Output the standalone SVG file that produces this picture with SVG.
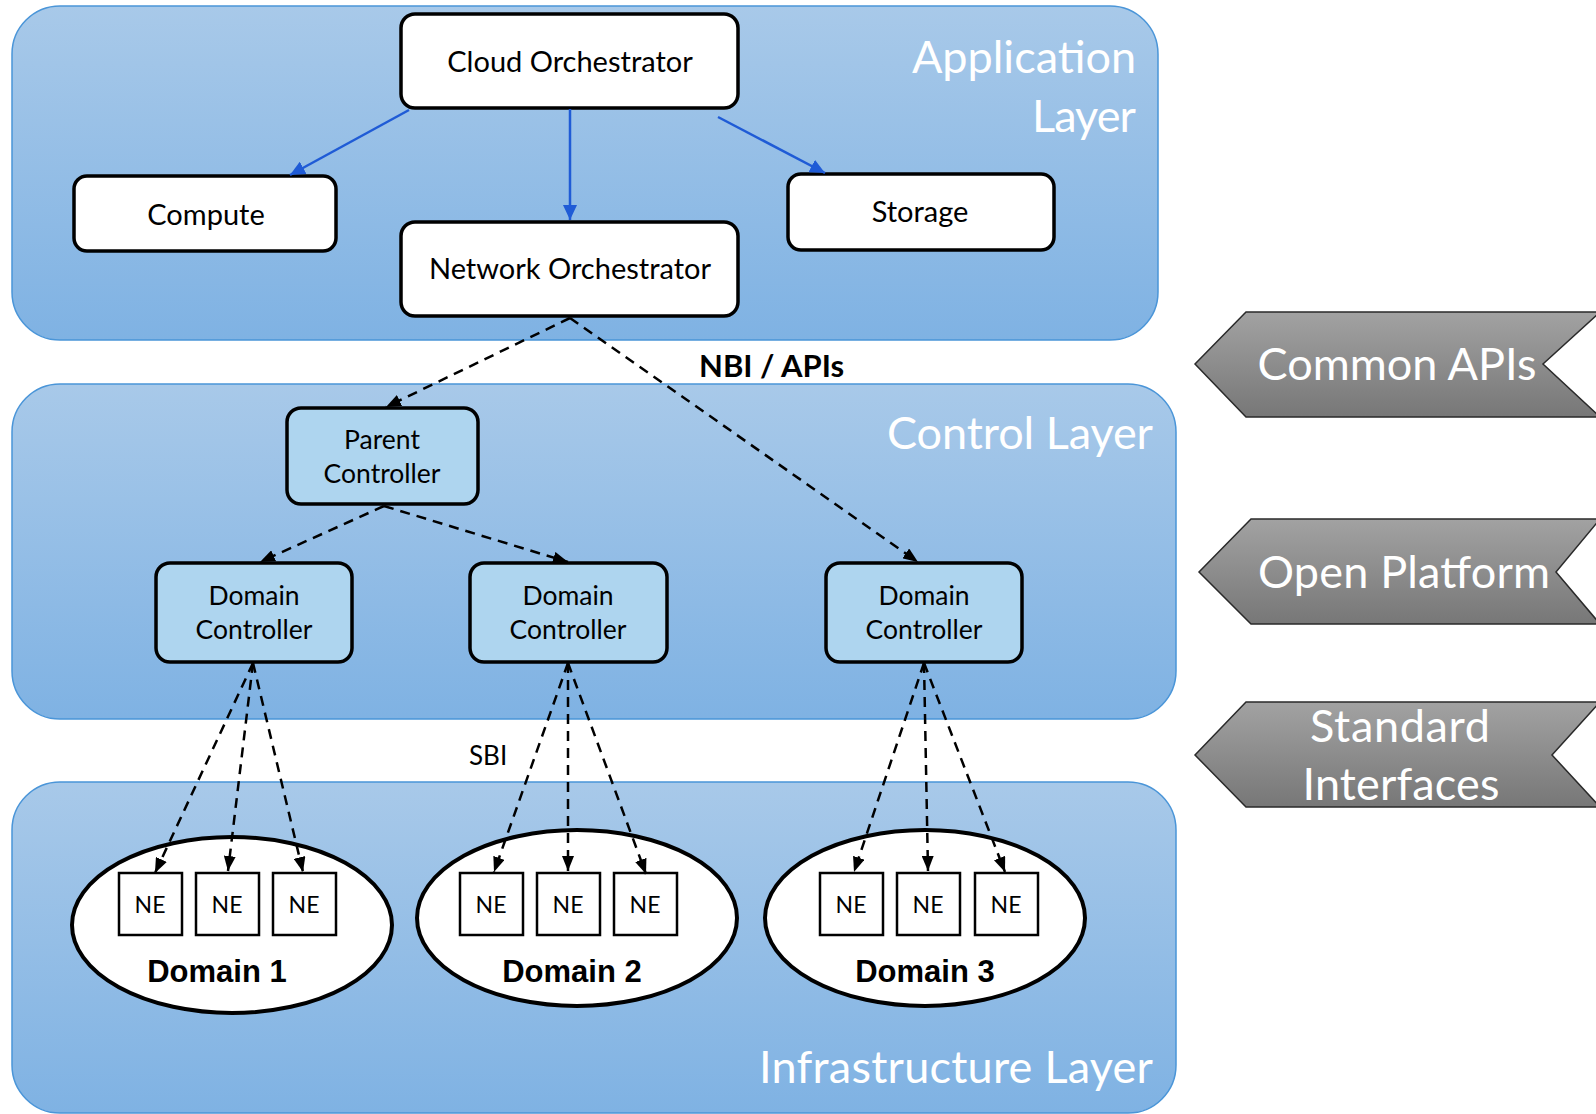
<svg xmlns="http://www.w3.org/2000/svg" width="1596" height="1114" viewBox="0 0 1596 1114">
  <defs>
    <linearGradient id="panelFill" x1="0" y1="0" x2="0" y2="1">
      <stop offset="0" stop-color="#A8C9E9"/>
      <stop offset="1" stop-color="#7FB2E3"/>
    </linearGradient>
    <linearGradient id="tagFill" x1="0" y1="0" x2="0" y2="1">
      <stop offset="0" stop-color="#A2A2A2"/>
      <stop offset="1" stop-color="#777777"/>
    </linearGradient>
    <marker id="blueHead" markerUnits="userSpaceOnUse" markerWidth="16" markerHeight="14" refX="15" refY="7" orient="auto">
      <path d="M0,0 L15,7 L0,14 Z" fill="#1F5BD6"/>
    </marker>
    <marker id="blackHead" markerUnits="userSpaceOnUse" markerWidth="16" markerHeight="12" refX="15" refY="6" orient="auto">
      <path d="M0,0 L15,6 L0,12 Z" fill="#000"/>
    </marker>
  </defs>
  <style>
    .panel { fill: url(#panelFill); stroke: #4A95D8; stroke-width: 1.5; }
    .layer-title { font-family: Lato, "Open Sans", sans-serif; font-size: 45px; fill: #FFFFFF; text-anchor: end; }
    .box { fill: #FFFFFF; stroke: #000; stroke-width: 3.5; }
    .ctrl { fill: #AED5EF; stroke: #000; stroke-width: 3.5; }
    .label { font-family: Lato, "Open Sans", sans-serif; font-size: 29px; fill: #000; text-anchor: middle; }
    .label2 { font-family: Lato, "Open Sans", sans-serif; font-size: 26.5px; fill: #000; text-anchor: middle; }
    .domain { fill: #FFFFFF; stroke: #000; stroke-width: 4; }
    .ne { fill: #FFFFFF; stroke: #000; stroke-width: 2.5; }
    .ne-text { font-family: Lato, "Open Sans", sans-serif; font-size: 23px; fill: #000; text-anchor: middle; }
    .domain-text { font-family: "Liberation Sans", Arial, sans-serif; font-weight: bold; font-size: 31px; fill: #000; text-anchor: middle; }
    .tag { fill: url(#tagFill); stroke: #2A2A2A; stroke-width: 1.5; }
    .tag-text { font-family: Lato, "Open Sans", sans-serif; font-size: 45px; fill: #FFFFFF; text-anchor: middle; }
    .note { font-family: Lato, "Open Sans", sans-serif; fill: #000; }
    .solid { stroke: #1F5BD6; stroke-width: 2.5; fill: none; marker-end: url(#blueHead); }
    .dashed { stroke: #000; stroke-width: 2.5; fill: none; stroke-dasharray: 10 7; marker-end: url(#blackHead); }
  </style>

  <!-- Layer panels -->
  <g id="application-layer">
    <rect class="panel" x="12" y="6" width="1146" height="334" rx="48" ry="48"/>
    <text class="layer-title" x="1136" y="73" textLength="224">Application</text>
    <text class="layer-title" x="1136" y="132" textLength="104">Layer</text>
  </g>
  <g id="control-layer">
    <rect class="panel" x="12" y="384" width="1164" height="335" rx="48" ry="48"/>
    <text class="layer-title" x="1153" y="449" textLength="266">Control Layer</text>
  </g>
  <g id="infrastructure-layer">
    <rect class="panel" x="12" y="782" width="1164" height="331" rx="48" ry="48"/>
    <text class="layer-title" x="1153" y="1083" textLength="394">Infrastructure Layer</text>
  </g>

  <!-- Side tags -->
  <g id="tag-common-apis">
    <polygon class="tag" points="1195,364 1246,312 1600,312 1543,364 1600,417 1246,417"/>
    <text class="tag-text" x="1397" y="380" textLength="279">Common APIs</text>
  </g>
  <g id="tag-open-platform">
    <polygon class="tag" points="1199,572 1251,519 1600,519 1556,572 1600,624 1251,624"/>
    <text class="tag-text" x="1404" y="588" textLength="292">Open Platform</text>
  </g>
  <g id="tag-standard-interfaces">
    <polygon class="tag" points="1195,755 1246,702 1600,702 1552,755 1600,807 1246,807"/>
    <text class="tag-text" x="1400" y="742" textLength="180">Standard</text>
    <text class="tag-text" x="1401" y="800" textLength="197">Interfaces</text>
  </g>

  <!-- Application layer nodes -->
  <g id="cloud-orchestrator">
    <rect class="box" x="401" y="14" width="337" height="94" rx="14"/>
    <text class="label" x="570" y="72">Cloud Orchestrator</text>
  </g>
  <g id="compute">
    <rect class="box" x="74" y="176" width="262" height="75" rx="13"/>
    <text class="label" x="206" y="225">Compute</text>
  </g>
  <g id="network-orchestrator">
    <rect class="box" x="401" y="222" width="337" height="94" rx="14"/>
    <text class="label" x="570" y="279">Network Orchestrator</text>
  </g>
  <g id="storage">
    <rect class="box" x="788" y="174" width="266" height="76" rx="13"/>
    <text class="label" x="920" y="222">Storage</text>
  </g>

  <!-- Control layer nodes -->
  <g id="parent-controller">
    <rect class="ctrl" x="287" y="408" width="191" height="96" rx="14"/>
    <text class="label2" x="382" y="449">Parent</text>
    <text class="label2" x="382" y="483">Controller</text>
  </g>
  <g id="domain-controller-1">
    <rect class="ctrl" x="156" y="563" width="196" height="99" rx="14"/>
    <text class="label2" x="254" y="605">Domain</text>
    <text class="label2" x="254" y="639">Controller</text>
  </g>
  <g id="domain-controller-2">
    <rect class="ctrl" x="470" y="563" width="197" height="99" rx="14"/>
    <text class="label2" x="568" y="605">Domain</text>
    <text class="label2" x="568" y="639">Controller</text>
  </g>
  <g id="domain-controller-3">
    <rect class="ctrl" x="826" y="563" width="196" height="99" rx="14"/>
    <text class="label2" x="924" y="605">Domain</text>
    <text class="label2" x="924" y="639">Controller</text>
  </g>

  <!-- Infrastructure domains -->
  <g id="domain-1">
    <ellipse class="domain" cx="232" cy="925" rx="160" ry="88"/>
    <rect class="ne" x="119" y="873" width="63" height="62"/>
    <rect class="ne" x="196" y="873" width="63" height="62"/>
    <rect class="ne" x="273" y="873" width="63" height="62"/>
    <text class="ne-text" x="150" y="913">NE</text>
    <text class="ne-text" x="227" y="913">NE</text>
    <text class="ne-text" x="304" y="913">NE</text>
    <text class="domain-text" x="217" y="982">Domain 1</text>
  </g>
  <g id="domain-2">
    <ellipse class="domain" cx="577" cy="918" rx="160" ry="88"/>
    <rect class="ne" x="460" y="873" width="63" height="62"/>
    <rect class="ne" x="537" y="873" width="63" height="62"/>
    <rect class="ne" x="614" y="873" width="63" height="62"/>
    <text class="ne-text" x="491" y="913">NE</text>
    <text class="ne-text" x="568" y="913">NE</text>
    <text class="ne-text" x="645" y="913">NE</text>
    <text class="domain-text" x="572" y="982">Domain 2</text>
  </g>
  <g id="domain-3">
    <ellipse class="domain" cx="925" cy="918" rx="160" ry="88"/>
    <rect class="ne" x="820" y="873" width="63" height="62"/>
    <rect class="ne" x="897" y="873" width="63" height="62"/>
    <rect class="ne" x="975" y="873" width="63" height="62"/>
    <text class="ne-text" x="851" y="913">NE</text>
    <text class="ne-text" x="928" y="913">NE</text>
    <text class="ne-text" x="1006" y="913">NE</text>
    <text class="domain-text" x="925" y="982">Domain 3</text>
  </g>

  <!-- Interface labels -->
  <text class="note" x="699" y="377" font-size="31" font-weight="bold">NBI / APIs</text>
  <text class="note" x="469" y="765" font-size="26">SBI</text>

  <!-- Connectors -->
  <g id="connectors">
    <line class="solid" x1="409" y1="110" x2="290" y2="175"/>
    <line class="solid" x1="570" y1="109" x2="570" y2="220"/>
    <line class="solid" x1="718" y1="117" x2="825" y2="173"/>

    <line class="dashed" x1="570" y1="318" x2="386" y2="407"/>
    <line class="dashed" x1="570" y1="318" x2="918" y2="562"/>
    <line class="dashed" x1="384" y1="506" x2="260" y2="562"/>
    <line class="dashed" x1="384" y1="506" x2="568" y2="562"/>

    <line class="dashed" x1="253" y1="663" x2="155" y2="873"/>
    <line class="dashed" x1="253" y1="663" x2="228" y2="871"/>
    <line class="dashed" x1="253" y1="663" x2="303" y2="872"/>

    <line class="dashed" x1="568" y1="663" x2="494" y2="872"/>
    <line class="dashed" x1="568" y1="663" x2="568" y2="871"/>
    <line class="dashed" x1="568" y1="663" x2="646" y2="874"/>

    <line class="dashed" x1="924" y1="663" x2="854" y2="872"/>
    <line class="dashed" x1="924" y1="663" x2="928" y2="871"/>
    <line class="dashed" x1="924" y1="663" x2="1005" y2="872"/>
  </g>
</svg>
